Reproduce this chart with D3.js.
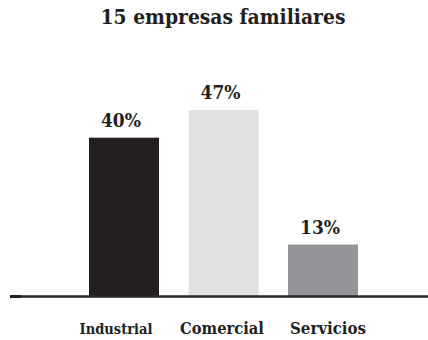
<!DOCTYPE html>
<html>
<head>
<meta charset="utf-8">
<script src="https://cdn.jsdelivr.net/npm/d3@7"></script>
<style>
  html, body { margin: 0; padding: 0; background: #ffffff; }
  svg { display: block; }
  text { font-family: "DejaVu Serif Condensed", "DejaVu Serif", serif; font-stretch: condensed; font-weight: bold; fill: #231f20; }
</style>
</head>
<body>
<script>
// Chart data
const title = "15 empresas familiares";
const categories = ["Industrial", "Comercial", "Servicios"];
const values = [40, 47, 13];
const valueLabels = ["40%", "47%", "13%"];
const barColors = ["#231f20", "#e0e1e3", "#939598"];

const W = 428, H = 340;
const baseY = 296;

const svg = d3.select("body").append("svg")
  .attr("width", W).attr("height", H);

const x = d3.scaleBand()
  .domain(categories)
  .range([89, 358])
  .paddingInner(0.2965)
  .paddingOuter(0);

const y = d3.scaleLinear()
  .domain([0, 47])
  .range([baseY, 110]);

const color = d3.scaleOrdinal().domain(categories).range(barColors);

// Category labels sit on their own evenly spaced row
const xLabel = d3.scalePoint()
  .domain(categories)
  .range([116, 328]);

// Fit a text element to a target width by scaling its font size
function fitWidth(sel, size, target) {
  sel.style("font-size", size + "px");
  const w = sel.node().getComputedTextLength();
  sel.style("font-size", (size * target / w).toFixed(2) + "px");
}

// Title
const t = svg.append("text")
  .attr("x", 223).attr("y", 24)
  .attr("text-anchor", "middle")
  .text(title);
fitWidth(t, 16, 245);

// Bars
svg.append("g").selectAll("rect")
  .data(categories)
  .join("rect")
  .attr("x", d => x(d))
  .attr("width", x.bandwidth())
  .attr("y", (d, i) => y(values[i]))
  .attr("height", (d, i) => baseY - y(values[i]))
  .attr("fill", d => color(d));

// Value labels above bars
svg.append("g").selectAll("text")
  .data(categories)
  .join("text")
  .attr("x", d => x(d) + x.bandwidth() / 2 - 3)
  .attr("y", (d, i) => y(values[i]) - 11)
  .attr("text-anchor", "middle")
  .text((d, i) => valueLabels[i])
  .each(function() { fitWidth(d3.select(this), 16, 40); });

// Baseline axis line
const axis = d3.axisBottom(x).tickSize(0).tickFormat("");
const ag = svg.append("g").attr("transform", `translate(0,${baseY + 0.5})`).call(axis);
ag.select(".domain").remove();
ag.append("line")
  .attr("x1", 10).attr("x2", W)
  .attr("y1", 0).attr("y2", 0)
  .attr("stroke", "#2a2728")
  .attr("stroke-width", 2.6);
ag.append("line")
  .attr("x1", 10).attr("x2", 21)
  .attr("y1", 0).attr("y2", 0)
  .attr("stroke", "#231f20")
  .attr("stroke-width", 3);

// Category labels
const widths = { "Industrial": 73, "Comercial": 84, "Servicios": 76 };
svg.append("g").selectAll("text")
  .data(categories)
  .join("text")
  .attr("x", d => xLabel(d))
  .attr("y", 334)
  .attr("text-anchor", "middle")
  .text(d => d)
  .each(function(d) { fitWidth(d3.select(this), 14, widths[d]); });
</script>
</body>
</html>
